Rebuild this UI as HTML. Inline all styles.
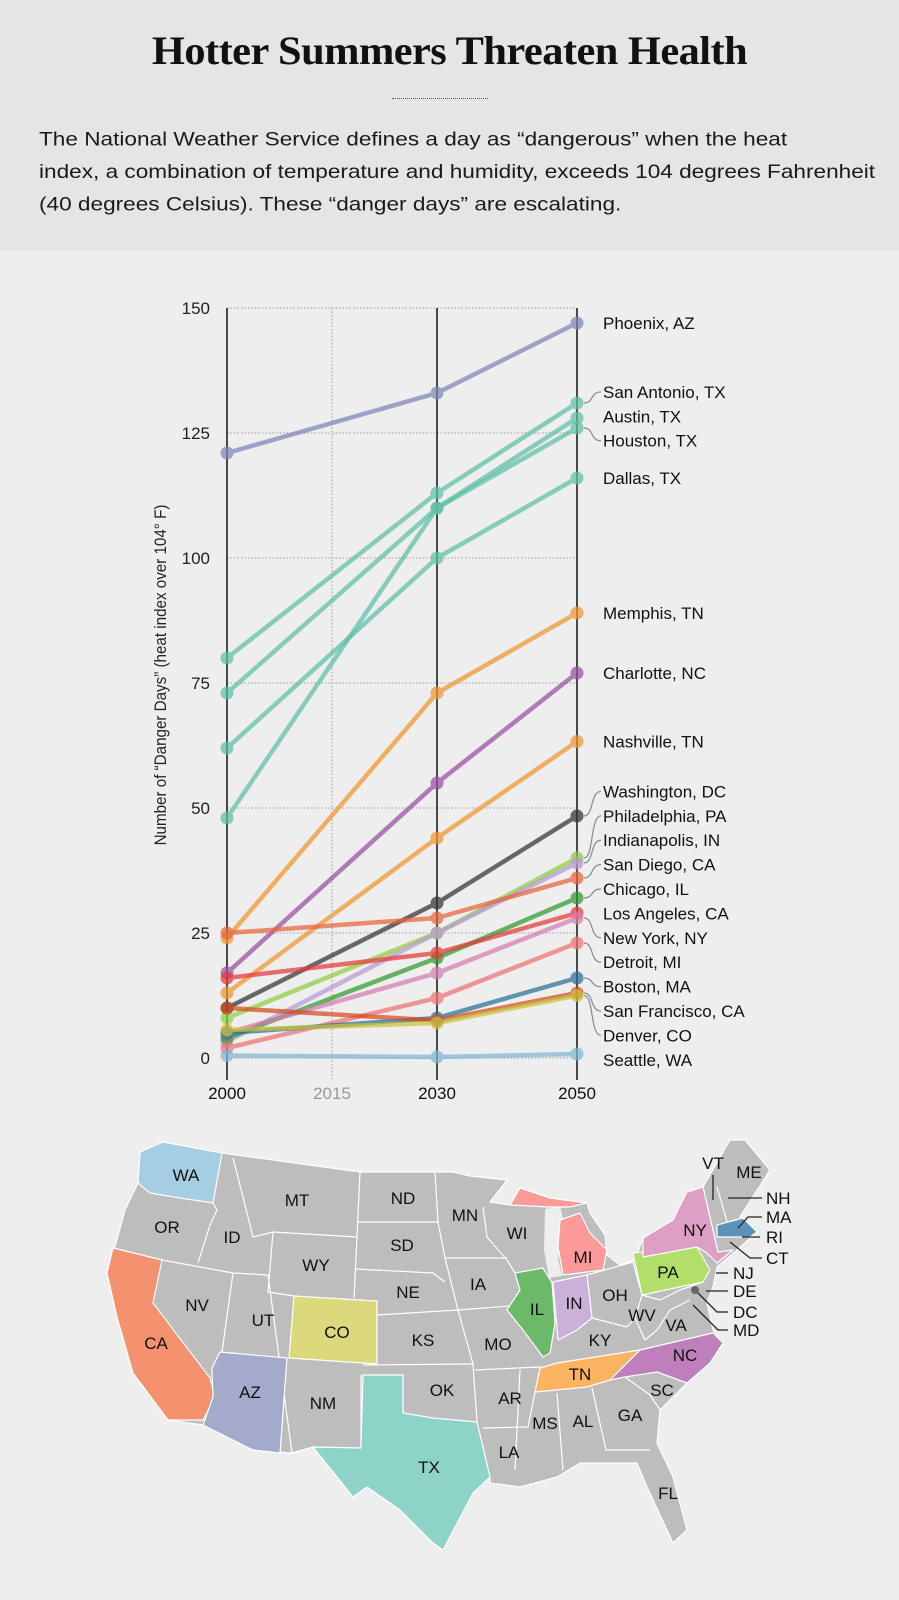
<!DOCTYPE html>
<html><head><meta charset="utf-8">
<style>
html,body{margin:0;padding:0;}
body{width:899px;height:1600px;background:#eeeeee;position:relative;overflow:hidden;font-family:"Liberation Sans",sans-serif;}
#header{position:absolute;left:0;top:0;width:899px;height:250px;background:#e5e5e5;}
#title{position:absolute;left:0;width:899px;top:27px;text-align:center;font-family:"Liberation Serif",serif;font-weight:bold;font-size:40px;letter-spacing:-0.5px;color:#111;transform:scaleX(1.06);transform-origin:449px 0;}
#rule{position:absolute;left:392px;top:98px;width:96px;border-top:1px dotted #555;}
#intro{position:absolute;left:39px;top:123px;width:900px;font-size:22.6px;line-height:38px;color:#1a1a1a;white-space:nowrap;transform:scale(1,0.86);transform-origin:0 0;}
svg{position:absolute;left:0;top:0;}
</style></head>
<body>
<div id="header">
  <div id="title">Hotter Summers Threaten Health</div>
  <div id="rule"></div>
  <div id="intro">The National Weather Service defines a day as “dangerous” when the heat<br>index, a combination of temperature and humidity, exceeds 104 degrees Fahrenheit<br>(40 degrees Celsius). These “danger days” are escalating.</div>
</div>
<svg id="chart" width="899" height="1600"></svg>
<script>
const cities = ["Phoenix, AZ","San Antonio, TX","Austin, TX","Houston, TX","Dallas, TX","Memphis, TN","Charlotte, NC","Nashville, TN","Washington, DC","Philadelphia, PA","Indianapolis, IN","San Diego, CA","Chicago, IL","Los Angeles, CA","New York, NY","Detroit, MI","Boston, MA","San Francisco, CA","Denver, CO","Seattle, WA"];
const colors = ["#7d85b8","#5fbfa8","#5fbfa8","#5fbfa8","#5fbfa8","#f0962e","#984ea3","#f0962e","#333333","#8fcf3c","#b99ad6","#e8643a","#2e9a2e","#e63a3a","#d67db0","#f07272","#2a6f96","#d64a1e","#c9c23a","#7fb6d6"];
const v2000 = [121,80,73,48,62,24,17,13,10,8,3.3,25,4,16,5,2,5,10,5.6,0.5];
const v2030 = [133,113,110,110,100,73,55,44,31,25,25,28,20,21,17,12,8,7.5,7,0.2];
const v2050 = [147,131,128,126,116,89,77,63.3,48.4,40,39,36,32,29,28,23,16,13,12.5,0.8];
const years = [2000,2030,2050];
const yTicks = [0,25,50,75,100,125,150];
const xTickYears = [2000,2015,2030,2050];

const NS="http://www.w3.org/2000/svg";
const svg=document.getElementById('chart');
function X(yr){return 227+(yr-2000)*(577-227)/50;}
function Y(v){return 1058-v*5;}
function mk(tag,attrs,parent){const e=document.createElementNS(NS,tag);for(const k in attrs)e.setAttribute(k,attrs[k]);(parent||svg).appendChild(e);return e;}

const gChart=mk('g',{});


yTicks.forEach(t=>{
  const l=mk('line',{x1:X(2000),x2:X(2050),y1:Y(t),y2:Y(t),stroke:'#9a9a9a','stroke-width':1,'stroke-dasharray':'1.5,2'},gChart);
  
  
  const tx=mk('text',{x:210,y:Y(t)+6,'text-anchor':'end','font-size':17,fill:'#222'},gChart);
  tx.textContent=t;
  
  
});
xTickYears.forEach(yr=>{
  const solid=yr!==2015;
  const l=mk('line',{x1:X(yr),x2:X(yr),y1:Y(150),y2:1080,stroke:solid?'#111':'#9a9a9a','stroke-width':solid?1.5:1,'stroke-dasharray':solid?'none':'1.5,2'},gChart);
  
  
  const tx=mk('text',{x:X(yr),y:1099,'text-anchor':'middle','font-size':17,fill:solid?'#111':'#999'},gChart);
  tx.textContent=yr;
  
  
});
const at=mk('text',{x:0,y:0,'text-anchor':'middle','font-size':16.5,fill:'#222',transform:'translate(166,675) rotate(-90) scale(0.92,1)'},gChart);
at.textContent='Number of “Danger Days” (heat index over 104° F)';



const series=cities.map((c,i)=>[v2000[i],v2030[i],v2050[i]]);
series.forEach((vals,i)=>{
  const g=mk('g',{opacity:0.72},gChart);
  
  
  const pts=vals.map((v,j)=>X(years[j])+','+Y(v)).join(' ');
  const pl=mk('polyline',{points:pts,fill:'none',stroke:colors[i],'stroke-width':4.5,'stroke-linejoin':'round'},g);
  
  
  vals.forEach((v,j)=>{
    const c=mk('circle',{cx:X(years[j]),cy:Y(v),r:6.5,fill:colors[i]},g);
    
    
  });
});

const gap=24.4;
let order=cities.map((c,i)=>i).sort((a,b)=>v2050[b]-v2050[a]);
let clusters=order.map(i=>({ids:[i]}));
function pos(cl){const n=cl.ids.length;const mean=cl.ids.reduce((s,i)=>s+Y(v2050[i]),0)/n;return mean-(n-1)*gap/2;}
let changed=true;
while(changed){changed=false;
  for(let k=0;k<clusters.length-1;k++){
    const a=clusters[k],b=clusters[k+1];
    if(pos(a)+a.ids.length*gap>pos(b)){a.ids=a.ids.concat(b.ids);clusters.splice(k+1,1);changed=true;break;}
  }
}
const labelY={};
clusters.forEach(cl=>{const p=pos(cl);cl.ids.forEach((i,k)=>labelY[i]=p+k*gap);});
cities.forEach((c,i)=>{
  const py=Y(v2050[i]),ly=labelY[i];
  if(Math.abs(py-ly)>6){
    const p=mk('path',{d:`M${X(2050)+7},${py} C${X(2050)+17},${py} ${X(2050)+13},${ly} ${X(2050)+24},${ly}`,fill:'none',stroke:'#888','stroke-width':1.2},gChart);
    
    
  }
  const t=mk('text',{x:603,y:ly+6,'font-size':17,fill:'#111'},gChart);
  t.textContent=c;
  
  
});
</script>

<svg width="899" height="1600">
 <g stroke="#ffffff" stroke-width="1.2" stroke-linejoin="round">
  <polygon fill="#bdbdbd" points="140,1152 163,1142 222,1153 360,1172 453,1172 470,1176 507,1180 490,1202 510,1205 520,1188 550,1198 587,1203 590,1213 605,1235 607,1255 620,1265 635,1260 643,1238 673,1220 687,1192 703,1187 730,1140 745,1140 770,1170 740,1217 757,1232 737,1250 717,1267 713,1287 707,1303 713,1330 723,1343 710,1363 687,1383 660,1410 657,1443 673,1477 687,1530 673,1543 647,1487 637,1463 580,1463 557,1477 520,1487 490,1483 490,1477 473,1493 443,1550 433,1543 400,1510 367,1487 353,1497 313,1447 292,1453 253,1450 203,1425 168,1420 133,1373 117,1317 107,1273 115,1247 125,1210 138,1183"/>
  <polygon fill="#eeeeee" stroke="none" points="545,1209 560,1206 566,1230 558,1258 562,1276 549,1278 544,1250"/>
  <polyline fill="none" points="113,1248 162,1260 233,1273 268,1275"/>
  <polyline fill="none" points="213,1203 217,1210 210,1225 198,1263"/>
  <polyline fill="none" points="233,1158 243,1197 253,1237 273,1232 357,1237"/>
  <polyline fill="none" points="273,1232 268,1292 294,1296"/>
  <polyline fill="none" points="360,1172 357,1237 354,1298"/>
  <polyline fill="none" points="357,1222 438,1222"/>
  <polyline fill="none" points="435,1173 438,1222 445,1258 458,1310 473,1364 477,1422"/>
  <polyline fill="none" points="355,1269 433,1273 445,1282"/>
  <polyline fill="none" points="377,1315 458,1310"/>
  <polyline fill="none" points="363,1365 473,1364"/>
  <polyline fill="none" points="233,1273 222,1352"/>
  <polyline fill="none" points="268,1275 292,1453"/>
  <polyline fill="none" points="361,1375 361,1448"/>
  <polyline fill="none" points="445,1258 507,1258"/>
  <polyline fill="none" points="458,1310 510,1306"/>
  <polyline fill="none" points="475,1370 540,1367"/>
  <polyline fill="none" points="483,1428 528,1427 535,1392"/>
  <polyline fill="none" points="520,1370 515,1470"/>
  <polyline fill="none" points="557,1393 563,1470"/>
  <polyline fill="none" points="592,1388 606,1450 650,1450"/>
  <polyline fill="none" points="483,1207 487,1237 507,1260 515,1273"/>
  <polyline fill="none" points="587,1275 633,1262 642,1295 635,1318 627,1327 592,1318"/>
  <polyline fill="none" points="642,1295 660,1300 680,1290 703,1282"/>
  <polyline fill="none" points="635,1318 645,1340 657,1330 670,1310 690,1300"/>
  <polyline fill="none" points="625,1377 650,1395 660,1410"/>
  <polyline fill="none" points="703,1187 718,1252"/>
  <polyline fill="none" points="717,1187 728,1225"/>
 </g>
 <g stroke="#ffffff" stroke-width="1.2" stroke-linejoin="round">
  <polygon fill="#a6cee3" points="140,1152 163,1142 222,1153 213,1203 180,1198 150,1193 138,1183"/>
  <polygon fill="#f4916e" points="113,1248 162,1260 153,1303 210,1378 215,1397 203,1420 168,1420 133,1373 117,1317 107,1273"/>
  <polygon fill="#a3aacb" points="212,1368 220,1352 287,1358 280,1453 253,1450 203,1425 213,1397"/>
  <polygon fill="#dcd97c" points="294,1296 377,1301 377,1364 289,1358"/>
  <polygon fill="#8dd3c7" points="363,1375 403,1375 403,1413 433,1418 477,1422 483,1447 490,1477 473,1493 443,1550 433,1543 400,1510 367,1487 353,1497 313,1447 361,1448"/>
  <polygon fill="#fb9a99" points="510,1205 520,1188 550,1198 587,1203 570,1207 550,1207"/>
  <polygon fill="#fb9a99" points="560,1220 580,1213 590,1233 607,1250 603,1270 563,1275 558,1247"/>
  <polygon fill="#6db96a" points="515,1273 543,1268 552,1283 555,1323 550,1353 543,1357 523,1330 507,1310 520,1290"/>
  <polygon fill="#c9b1d9" points="553,1282 587,1275 592,1318 577,1330 558,1340"/>
  <polygon fill="#b2df6a" points="633,1253 697,1247 710,1270 703,1282 642,1295"/>
  <polygon fill="#dd9fc3" points="643,1257 643,1238 673,1220 687,1192 703,1187 718,1252 733,1250 717,1263 707,1253 697,1247"/>
  <polygon fill="#5b93b8" points="717,1225 743,1218 757,1232 750,1237 717,1237"/>
  <polygon fill="#fdb462" points="535,1392 540,1368 557,1363 640,1350 610,1380 587,1387"/>
  <polygon fill="#bf7fbd" points="610,1380 640,1350 713,1333 723,1343 710,1363 687,1383 657,1372 625,1377"/>
 </g>
 <g stroke="#222" stroke-width="1.3" fill="none">
  <polyline points="713,1175 713,1200"/>
  <polyline points="728,1198 762,1198"/>
  <polyline points="738,1228 748,1217 762,1217"/>
  <polyline points="742,1237 760,1237"/>
  <polyline points="730,1242 750,1258 762,1258"/>
  <polyline points="716,1273 728,1273"/>
  <polyline points="706,1291 728,1291"/>
  <polyline points="697,1292 717,1312 728,1312"/>
  <polyline points="693,1305 718,1330 728,1330"/>
 </g>
 <circle cx="695" cy="1290" r="4" fill="#666"/>
 <g font-family="Liberation Sans, sans-serif" font-size="17" fill="#111" text-anchor="middle">
  <text x="186" y="1181">WA</text><text x="297" y="1206">MT</text><text x="403" y="1204">ND</text>
  <text x="465" y="1221">MN</text><text x="167" y="1233">OR</text><text x="232" y="1243">ID</text>
  <text x="402" y="1251">SD</text><text x="316" y="1271">WY</text><text x="408" y="1298">NE</text>
  <text x="478" y="1290">IA</text><text x="197" y="1311">NV</text><text x="263" y="1326">UT</text>
  <text x="337" y="1338">CO</text><text x="423" y="1346">KS</text><text x="498" y="1350">MO</text>
  <text x="156" y="1349">CA</text><text x="250" y="1398">AZ</text><text x="323" y="1409">NM</text>
  <text x="442" y="1396">OK</text><text x="510" y="1404">AR</text><text x="429" y="1473">TX</text>
  <text x="509" y="1458">LA</text><text x="545" y="1429">MS</text><text x="583" y="1427">AL</text>
  <text x="630" y="1421">GA</text><text x="662" y="1396">SC</text><text x="668" y="1499">FL</text>
  <text x="685" y="1361">NC</text><text x="580" y="1380">TN</text><text x="600" y="1346">KY</text>
  <text x="676" y="1331">VA</text><text x="642" y="1321">WV</text><text x="615" y="1301">OH</text>
  <text x="574" y="1309">IN</text><text x="537" y="1315">IL</text><text x="583" y="1263">MI</text>
  <text x="517" y="1239">WI</text><text x="695" y="1236">NY</text><text x="668" y="1278">PA</text>
  <text x="713" y="1169">VT</text><text x="749" y="1178">ME</text>
 </g>
 <g font-family="Liberation Sans, sans-serif" font-size="17" fill="#111">
  <text x="766" y="1204">NH</text><text x="766" y="1223">MA</text><text x="766" y="1243">RI</text>
  <text x="766" y="1264">CT</text><text x="733" y="1279">NJ</text><text x="733" y="1297">DE</text>
  <text x="733" y="1318">DC</text><text x="733" y="1336">MD</text>
 </g>
</svg>
</body></html>
